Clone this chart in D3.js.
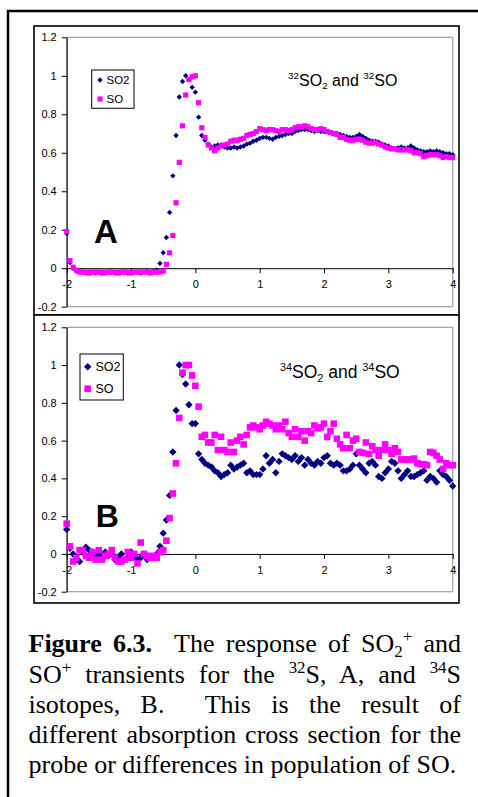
<!DOCTYPE html>
<html><head><meta charset="utf-8">
<script src="https://cdn.jsdelivr.net/npm/d3@7"></script>
<style>
html,body{margin:0;padding:0;background:#fff;}
svg{display:block;}
</style></head><body>
<svg id="fig" width="478" height="797"></svg>
<script>
// ---- data ----
const time = [-2,-1.95,-1.9,-1.85,-1.8,-1.75,-1.7,-1.65,-1.6,-1.55,
 -1.5,-1.45,-1.4,-1.35,-1.3,-1.25,-1.2,-1.15,-1.1,-1.05,
 -1,-0.95,-0.9,-0.85,-0.8,-0.75,-0.7,-0.65,-0.6,-0.55,
 -0.5,-0.45,-0.4,-0.35,-0.3,-0.25,-0.2,-0.15,-0.1,-0.05,
 0,0.05,0.1,0.15,0.2,0.25,0.3,0.35,0.4,0.45,
 0.5,0.55,0.6,0.65,0.7,0.75,0.8,0.85,0.9,0.95,
 1,1.05,1.1,1.15,1.2,1.25,1.3,1.35,1.4,1.45,
 1.5,1.55,1.6,1.65,1.7,1.75,1.8,1.85,1.9,1.95,
 2,2.05,2.1,2.15,2.2,2.25,2.3,2.35,2.4,2.45,
 2.5,2.55,2.6,2.65,2.7,2.75,2.8,2.85,2.9,2.95,
 3,3.05,3.1,3.15,3.2,3.25,3.3,3.35,3.4,3.45,
 3.5,3.55,3.6,3.65,3.7,3.75,3.8,3.85,3.9,3.95,
 4];

const so2A = [0.18,0.03,0.0,-0.015,-0.02,-0.02,-0.025,-0.02,-0.02,-0.025,
 -0.02,-0.02,-0.025,-0.02,-0.02,-0.025,-0.02,-0.02,-0.02,-0.025,
 -0.02,-0.02,-0.02,-0.025,-0.02,-0.015,-0.02,-0.015,-0.01,0.025,
 0.08,0.16,0.29,0.48,0.69,0.89,0.97,1.0,0.98,0.94,
 0.915,0.785,0.69,0.665,0.645,0.63,0.635,0.64,0.64,0.63,
 0.625,0.625,0.63,0.625,0.63,0.635,0.645,0.65,0.66,0.665,
 0.675,0.68,0.68,0.675,0.67,0.68,0.685,0.69,0.695,0.70,
 0.70,0.71,0.715,0.72,0.72,0.72,0.715,0.71,0.715,0.71,
 0.71,0.71,0.705,0.70,0.70,0.695,0.69,0.685,0.68,0.68,
 0.685,0.695,0.685,0.675,0.665,0.66,0.66,0.655,0.645,0.64,
 0.635,0.625,0.62,0.625,0.63,0.625,0.625,0.635,0.625,0.615,
 0.61,0.605,0.605,0.61,0.605,0.61,0.605,0.60,0.595,0.595,
 0.59];

const soA = [0.19,0.04,0.005,-0.01,-0.02,-0.02,-0.02,-0.025,-0.02,-0.02,
 -0.02,-0.025,-0.02,-0.02,-0.02,-0.02,-0.025,-0.02,-0.02,-0.02,
 -0.025,-0.02,-0.02,-0.02,-0.02,-0.02,-0.025,-0.02,-0.02,-0.02,
 -0.015,0.02,0.08,0.17,0.34,0.55,0.74,0.90,0.98,0.995,
 1.0,0.86,0.73,0.68,0.64,0.625,0.61,0.625,0.635,0.64,
 0.645,0.66,0.665,0.665,0.67,0.675,0.69,0.695,0.70,0.71,
 0.725,0.72,0.715,0.72,0.72,0.715,0.71,0.72,0.72,0.715,
 0.72,0.73,0.735,0.735,0.74,0.735,0.725,0.72,0.72,0.725,
 0.72,0.71,0.705,0.70,0.695,0.68,0.68,0.67,0.665,0.665,
 0.67,0.67,0.665,0.655,0.65,0.65,0.655,0.645,0.64,0.63,
 0.625,0.62,0.62,0.615,0.615,0.615,0.615,0.61,0.60,0.60,
 0.595,0.58,0.585,0.59,0.59,0.59,0.585,0.575,0.58,0.575,
 0.575];

const so2B = [0.13,0.03,0.00,-0.03,-0.04,0.01,0.035,0.02,0.01,-0.01,
 0.00,-0.02,0.01,-0.01,0.00,-0.03,-0.02,0.00,-0.03,-0.02,
 0.01,-0.01,-0.03,-0.02,0.00,-0.03,-0.02,-0.015,0.00,0.04,
 0.11,0.18,0.31,0.54,0.76,1.00,0.95,0.90,0.79,0.69,
 0.69,0.53,0.50,0.48,0.47,0.46,0.44,0.43,0.41,0.42,
 0.43,0.47,0.45,0.46,0.47,0.48,0.43,0.44,0.42,0.42,
 0.42,0.45,0.52,0.48,0.50,0.43,0.49,0.53,0.52,0.51,
 0.50,0.52,0.49,0.51,0.47,0.50,0.48,0.47,0.49,0.48,
 0.51,0.52,0.48,0.47,0.48,0.47,0.44,0.44,0.45,0.47,
 0.53,0.47,0.45,0.43,0.48,0.49,0.47,0.41,0.40,0.43,
 0.45,0.49,0.48,0.44,0.40,0.42,0.44,0.41,0.41,0.42,
 0.43,0.44,0.39,0.41,0.40,0.38,0.44,0.42,0.41,0.39,
 0.36];

const soB = [0.16,0.04,-0.04,-0.02,0.02,0.02,-0.01,-0.02,0.01,-0.03,
 0.02,-0.03,-0.01,0.00,0.02,-0.02,-0.04,-0.04,-0.03,0.01,
 -0.02,0.00,-0.05,0.06,0.00,-0.01,-0.02,-0.01,-0.02,0.01,
 0.02,0.07,0.19,0.32,0.48,0.72,0.96,1.00,1.00,0.945,
 0.89,0.78,0.62,0.63,0.59,0.59,0.63,0.55,0.62,0.55,
 0.54,0.59,0.54,0.60,0.62,0.58,0.63,0.67,0.68,0.67,
 0.66,0.68,0.70,0.69,0.68,0.66,0.68,0.66,0.70,0.64,
 0.62,0.66,0.62,0.65,0.60,0.65,0.64,0.68,0.665,0.67,
 0.69,0.62,0.65,0.69,0.61,0.58,0.56,0.63,0.56,0.60,
 0.61,0.54,0.535,0.59,0.53,0.57,0.55,0.52,0.55,0.58,
 0.55,0.53,0.56,0.54,0.50,0.50,0.50,0.50,0.505,0.48,
 0.475,0.475,0.47,0.54,0.535,0.52,0.50,0.45,0.48,0.47,
 0.47];

const xTicks = [-2,-1,0,1,2,3,4];
const yTicks = [-0.2,0,0.2,0.4,0.6,0.8,1,1.2];
const yTickLabels = ["-0.2","0","0.2","0.4","0.6","0.8","1","1.2"];
const xTickLabels = ["-2","-1","0","1","2","3","4"];
const seriesNames = ["SO2","SO"];
const panelLetters = ["A","B"];
const isotopes = ["32","34"];

// ---- layout ----
const NAVY = "#000080", MAG = "#FF00FF";
const SANS = "'Liberation Sans', Arial, sans-serif";
const SERIF = "'Liberation Serif', 'Times New Roman', serif";

const svg = d3.select("#fig");
svg.append("rect").attr("x",8).attr("y",11).attr("width",490).attr("height",810)
  .attr("fill","none").attr("stroke","#000").attr("stroke-width",2.5);

const panels = [
  {letter:panelLetters[0], iso:isotopes[0], s1:so2A, s2:soA,
   frame:[34,26,459,315], plot:[66.7,37.3,452.7,306.7],
   dr:2.7, sq:5.2, tickFont:11,
   legend:{box:[91.7,70,134,108.3], ys:[80,99], mx:100, tx:106.5, fs:11.5},
   note:{x:288, y:86, fs:16}, let:{x:94, y:242.7, fs:33}},
  {letter:panelLetters[1], iso:isotopes[1], s1:so2B, s2:soB,
   frame:[34,315,459,603], plot:[66.7,327.3,452.7,591.7],
   dr:3.7, sq:6.6, tickFont:11,
   legend:{box:[80,354,123.3,400], ys:[366.7,388.7], mx:87.7, tx:95.5, fs:12.5},
   note:{x:280, y:378, fs:17.5}, let:{x:95.7, y:527.3, fs:32}}
];

function diamond(r){ return `M0,${-r}L${r},0L0,${r}L${-r},0Z`; }
function square(s){ return `M${-s/2},${-s/2}h${s}v${s}h${-s}Z`; }

panels.forEach(p => {
  const g = svg.append("g");
  const [fx0,fy0,fx1,fy1] = p.frame;
  g.append("rect").attr("x",fx0).attr("y",fy0).attr("width",fx1-fx0).attr("height",fy1-fy0)
    .attr("fill","#fff").attr("stroke","#000").attr("stroke-width",1.6);
  const [px0,py0,px1,py1] = p.plot;
  const x = d3.scaleLinear().domain([-2,4]).range([px0,px1]);
  const y = d3.scaleLinear().domain([-0.2,1.2]).range([py1,py0]);
  // plot area border
  g.append("rect").attr("x",px0).attr("y",py0).attr("width",px1-px0).attr("height",py1-py0)
    .attr("fill","none").attr("stroke","#a0a0a0").attr("stroke-width",1.2);
  // y axis
  const ya = g.append("g").attr("transform",`translate(${px0},0)`)
    .call(d3.axisLeft(y).tickValues(yTicks).tickSize(5).tickSizeOuter(0).tickPadding(5)
      .tickFormat((d,i)=>yTickLabels[i]));
  ya.selectAll("text").attr("font-family",SANS).attr("font-size",p.tickFont).attr("fill","#000");
  ya.selectAll("line,path").attr("stroke","#000");
  // x axis at y=0
  const xa = g.append("g").attr("transform",`translate(0,${y(0)})`)
    .call(d3.axisBottom(x).tickValues(xTicks).tickSize(5).tickSizeOuter(0).tickPadding(7)
      .tickFormat((d,i)=>xTickLabels[i]));
  xa.selectAll("text").attr("font-family",SANS).attr("font-size",p.tickFont).attr("fill","#000");
  xa.selectAll("line,path").attr("stroke","#000");

  // series
  const d1 = time.map((t,i)=>({t, v:p.s1[i]}));
  const d2 = time.map((t,i)=>({t, v:p.s2[i]}));
  g.append("g").selectAll("path").data(d1).join("path")
    .attr("d",diamond(p.dr)).attr("fill",NAVY)
    .attr("transform",d=>`translate(${x(d.t)},${y(d.v)})`);
  g.append("g").selectAll("path").data(d2).join("path")
    .attr("d",square(p.sq)).attr("fill",MAG)
    .attr("transform",d=>`translate(${x(d.t)},${y(d.v)})`);

  // legend
  const L = p.legend;
  g.append("rect").attr("x",L.box[0]).attr("y",L.box[1]).attr("width",L.box[2]-L.box[0])
    .attr("height",L.box[3]-L.box[1]).attr("fill","#fff").attr("stroke","#000").attr("stroke-width",1);
  g.append("path").attr("d",diamond(p.dr)).attr("fill",NAVY).attr("transform",`translate(${L.mx},${L.ys[0]})`);
  g.append("path").attr("d",square(p.sq)).attr("fill",MAG).attr("transform",`translate(${L.mx},${L.ys[1]})`);
  seriesNames.forEach((n,i)=>{
    g.append("text").attr("x",L.tx).attr("y",L.ys[i]).attr("dy","0.36em")
      .attr("font-family",SANS).attr("font-size",L.fs).text(n);
  });

  // annotation
  const N = p.note;
  const sm = N.fs*0.62;
  const t = g.append("text").attr("x",N.x).attr("y",N.y).attr("font-family",SANS).attr("font-size",N.fs);
  t.append("tspan").attr("font-size",sm).attr("dy",-N.fs*0.42).text(p.iso);
  t.append("tspan").attr("dy",N.fs*0.42).text("SO");
  t.append("tspan").attr("font-size",sm).attr("dy",N.fs*0.2).text("2");
  t.append("tspan").attr("dy",-N.fs*0.2).text(" and ");
  t.append("tspan").attr("font-size",sm).attr("dy",-N.fs*0.42).text(p.iso);
  t.append("tspan").attr("dy",N.fs*0.42).text("SO");

  // panel letter
  g.append("text").attr("x",p.let.x).attr("y",p.let.y).attr("font-family",SANS)
    .attr("font-weight","bold").attr("font-size",p.let.fs).text(p.letter);
});

// ---- caption ----
const capLines = [
  [{t:"Figure 6.3.",b:1},{t:"  The response of SO"},{t:"2",s:-1},{t:"+",s:1},{t:" and"}],
  [{t:"SO"},{t:"+",s:1},{t:" transients for the "},{t:"32",s:1},{t:"S, A, and "},{t:"34",s:1},{t:"S"}],
  [{t:"isotopes, B.  This is the result of"}],
  [{t:"different absorption cross section for the"}],
  [{t:"probe or differences in population of SO."}]
];
const capX0 = 28.5, capX1 = 461, capFs = 26;
const capBase = [651.7, 682.7, 712.7, 743.3, 773.3];
capLines.forEach((line,li)=>{
  const txt = svg.append("text").attr("x",capX0).attr("y",capBase[li])
    .attr("font-family",SERIF).attr("font-size",capFs).style("white-space","pre");
  let prev = 0;
  let spaces = 0;
  line.forEach(seg=>{
    const shift = seg.s===1 ? 10 : seg.s===-1 ? -5 : 0;
    const ts = txt.append("tspan").attr("dy",prev-shift).text(seg.t);
    if(seg.s) ts.attr("font-size",capFs*0.65);
    if(seg.b) ts.attr("font-weight","bold");
    prev = shift;
    spaces += (seg.t.match(/ /g)||[]).length;
  });
  const w = txt.node().getComputedTextLength();
  const target = capX1-capX0;
  if(li < capLines.length-1 && spaces>0){
    txt.attr("word-spacing",(target-w)/spaces);
  }
});
</script>
</body></html>
